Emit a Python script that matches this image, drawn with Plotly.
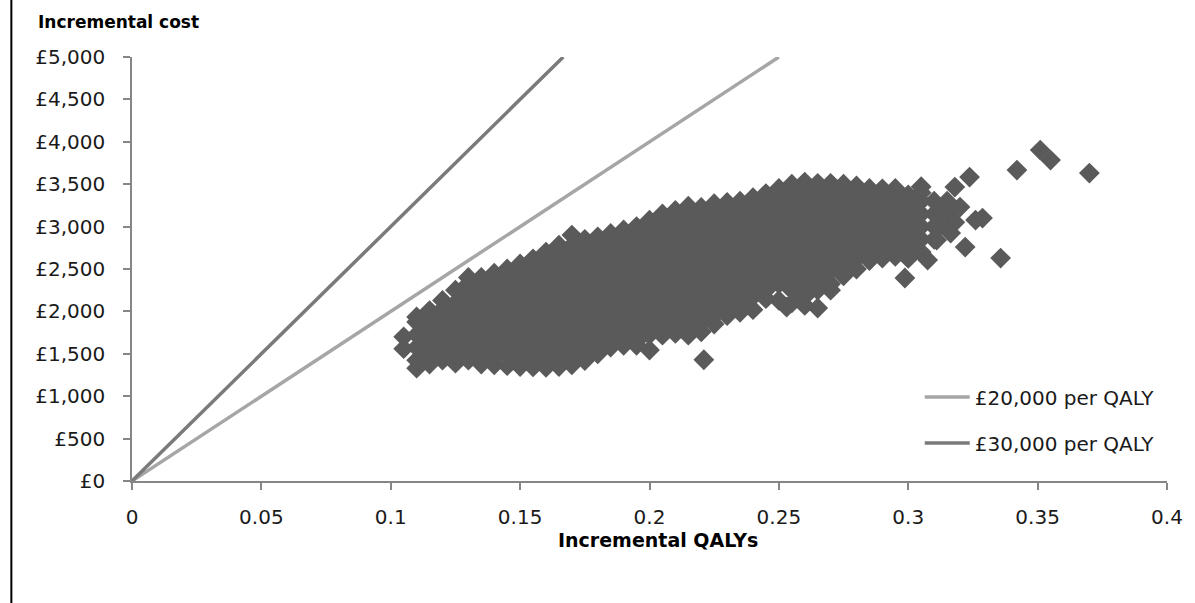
import plotly.graph_objects as go

# ---- data ----
column_qaly = [0.105, 0.110, 0.115, 0.120, 0.125, 0.130, 0.135, 0.140, 0.145, 0.150,
               0.155, 0.160, 0.165, 0.170, 0.175, 0.180, 0.185, 0.190, 0.195, 0.200,
               0.205, 0.210, 0.215, 0.220, 0.225, 0.230, 0.235, 0.240, 0.245, 0.250,
               0.255, 0.260, 0.265, 0.270, 0.275, 0.280, 0.285, 0.290, 0.295, 0.300,
               0.305, 0.310]
column_costs = [
    [1560, 1700],
    [1330, 1425, 1575, 1725, 1875, 1935],
    [1380, 1500, 1650, 1800, 1950, 2010],
    [1425, 1575, 1725, 1875, 2025, 2130],
    [1390, 1500, 1650, 1800, 1950, 2100, 2250],
    [1425, 1575, 1725, 1875, 2025, 2175, 2325, 2400],
    [1380, 1500, 1650, 1800, 1950, 2100, 2250, 2400],
    [1370, 1450, 1575, 1725, 1875, 2025, 2175, 2325, 2450],
    [1360, 1500, 1650, 1800, 1950, 2100, 2250, 2400, 2500],
    [1350, 1425, 1575, 1725, 1875, 2025, 2175, 2325, 2475, 2560],
    [1345, 1500, 1650, 1800, 1950, 2100, 2250, 2400, 2550, 2620],
    [1340, 1425, 1575, 1725, 1875, 2025, 2175, 2325, 2475, 2625, 2700],
    [1350, 1500, 1650, 1800, 1950, 2100, 2250, 2400, 2550, 2700, 2780],
    [1370, 1425, 1575, 1725, 1875, 2025, 2175, 2325, 2475, 2625, 2775, 2900],
    [1420, 1500, 1650, 1800, 1950, 2100, 2250, 2400, 2550, 2700, 2850],
    [1500, 1575, 1725, 1875, 2025, 2175, 2325, 2475, 2625, 2775, 2880],
    [1580, 1650, 1800, 1950, 2100, 2250, 2400, 2550, 2700, 2850, 2920],
    [1600, 1725, 1875, 2025, 2175, 2325, 2475, 2625, 2775, 2925, 2960],
    [1600, 1650, 1800, 1950, 2100, 2250, 2400, 2550, 2700, 2850, 3000],
    [1545, 1725, 1875, 2025, 2175, 2325, 2475, 2625, 2775, 2925, 3075],
    [1720, 1800, 1950, 2100, 2250, 2400, 2550, 2700, 2850, 3000, 3150],
    [1740, 1875, 2025, 2175, 2325, 2475, 2625, 2775, 2925, 3075, 3190],
    [1720, 1800, 1950, 2100, 2250, 2400, 2550, 2700, 2850, 3000, 3150, 3240],
    [1760, 1875, 2025, 2175, 2325, 2475, 2625, 2775, 2925, 3075, 3225],
    [1850, 1950, 2100, 2250, 2400, 2550, 2700, 2850, 3000, 3150, 3270],
    [1950, 2025, 2175, 2325, 2475, 2625, 2775, 2925, 3075, 3225, 3285],
    [1990, 2100, 2250, 2400, 2550, 2700, 2850, 3000, 3150, 3300],
    [2020, 2175, 2325, 2475, 2625, 2775, 2925, 3075, 3225, 3340],
    [2150, 2250, 2400, 2550, 2700, 2850, 3000, 3150, 3300, 3390],
    [2130, 2325, 2475, 2625, 2775, 2925, 3075, 3225, 3375, 3450],
    [2100, 2250, 2400, 2550, 2700, 2850, 3000, 3150, 3300, 3450, 3500],
    [2070, 2175, 2325, 2475, 2625, 2775, 2925, 3075, 3225, 3375, 3525],
    [2040, 2250, 2400, 2550, 2700, 2850, 3000, 3150, 3300, 3450, 3510],
    [2250, 2325, 2475, 2625, 2775, 2925, 3075, 3225, 3375, 3510],
    [2420, 2550, 2700, 2850, 3000, 3150, 3300, 3450, 3500],
    [2500, 2625, 2775, 2925, 3075, 3225, 3375, 3480],
    [2600, 2700, 2850, 3000, 3150, 3300, 3450],
    [2630, 2775, 2925, 3075, 3225, 3375, 3445],
    [2650, 2700, 2850, 3000, 3150, 3300, 3450],
    [2625, 2775, 2925, 3075, 3225, 3375],
    [2700, 2850, 3000, 3150, 3300, 3400, 3470],
    [2850, 3000, 3150, 3300],
]
outlier_qaly = [0.221, 0.253, 0.2987, 0.3075, 0.311, 0.3164, 0.322, 0.3357, 0.320,
                0.3287, 0.326, 0.318, 0.3237, 0.313, 0.315, 0.315, 0.312, 0.318,
                0.342, 0.351, 0.355, 0.370]
outlier_cost = [1430, 2050, 2394, 2606, 2841, 2924, 2759, 2629, 3230,
                3100, 3077, 3466, 3584, 3172, 3300, 3150, 3000, 3050,
                3667, 3903, 3785, 3631]

wtp_names = ["£20,000 per QALY", "£30,000 per QALY"]
wtp_qaly = [[0, 0.25], [0, 5000 / 30000]]
wtp_cost = [[0, 5000], [0, 5000]]
wtp_colors = ["#a6a6a6", "#7a7a7a"]

x_ticks = [0, 0.05, 0.1, 0.15, 0.2, 0.25, 0.3, 0.35, 0.4]
x_ticktext = ["0", "0.05", "0.1", "0.15", "0.2", "0.25", "0.3", "0.35", "0.4"]
y_ticks = [0, 500, 1000, 1500, 2000, 2500, 3000, 3500, 4000, 4500, 5000]
y_ticktext = ["£0", "£500", "£1,000", "£1,500", "£2,000", "£2,500", "£3,000",
              "£3,500", "£4,000", "£4,500", "£5,000"]

# ---- build ----
pts_q, pts_c = [], []
for q, cs in zip(column_qaly, column_costs):
    for c in cs:
        pts_q.append(q)
        pts_c.append(c)
pts_q += outlier_qaly
pts_c += outlier_cost

W, H = 1195, 603
L, R, T, B = 132, 25, 57, 122
PW, PH = W - L - R, H - T - B

def px_x(p):
    return (p - L) / PW

def px_y(p):
    return (H - B - p) / PH

fig = go.Figure()
fig.add_trace(go.Scatter(
    x=pts_q, y=pts_c, mode="markers", showlegend=False,
    marker=dict(symbol="diamond", size=16, color="#5a5a5a", line=dict(width=0)),
    hoverinfo="skip"))

legend_ids = ["legend", "legend2"]
for name, xs, ys, col, lg in zip(wtp_names, wtp_qaly, wtp_cost, wtp_colors, legend_ids):
    fig.add_trace(go.Scatter(x=xs, y=ys, mode="lines", name=name, legend=lg,
                             line=dict(color=col, width=3.5)))

font_main = "DejaVu Sans"
legend_common = dict(xanchor="left", yanchor="middle", bgcolor="rgba(0,0,0,0)",
                     font=dict(family=font_main, size=20, color="#1a1a1a"),
                     itemwidth=45, borderwidth=0)
fig.update_layout(
    width=W, height=H, autosize=False,
    margin=dict(l=L, r=R, t=T, b=B, pad=0),
    paper_bgcolor="white", plot_bgcolor="white",
    font=dict(family=font_main, size=20, color="#1a1a1a"),
    legend=dict(x=px_x(922), y=px_y(397), **legend_common),
    legend2=dict(x=px_x(922), y=px_y(443), **legend_common),
    xaxis=dict(range=[0, 0.4], tickvals=x_ticks, ticktext=x_ticktext,
               showline=True, linecolor="#868686", linewidth=1.5,
               ticks="outside", ticklen=7, tickcolor="#868686", tickwidth=1.5,
               showgrid=False, zeroline=False, ticklabelstandoff=10,
               tickfont=dict(family=font_main, size=20, color="#1a1a1a")),
    yaxis=dict(range=[0, 5000], tickvals=y_ticks, ticktext=y_ticktext,
               showline=True, linecolor="#868686", linewidth=1.5,
               ticks="outside", ticklen=7, tickcolor="#868686", tickwidth=1.5,
               showgrid=False, zeroline=False, ticklabelstandoff=14,
               tickfont=dict(family=font_main, size=20, color="#1a1a1a")),
    annotations=[
        dict(text="<b>Incremental cost</b>", xref="paper", yref="paper",
             x=px_x(36), y=px_y(22), xanchor="left", yanchor="middle",
             showarrow=False, font=dict(family=font_main, size=17, color="#000000")),
        dict(text="<b>Incremental QALYs</b>", xref="paper", yref="paper",
             x=px_x(660), y=px_y(540), xanchor="center", yanchor="middle",
             showarrow=False, font=dict(family=font_main, size=19, color="#000000")),
    ],
    shapes=[dict(type="line", xref="paper", yref="paper",
                 x0=px_x(11), x1=px_x(11), y0=px_y(H), y1=px_y(0),
                 line=dict(color="#000000", width=2))],
)

fig.write_html("out.html")
